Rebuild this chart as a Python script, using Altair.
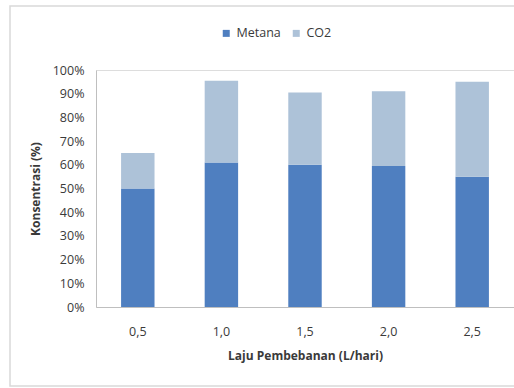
import altair as alt
import pandas as pd

categories = ["0,5", "1,0", "1,5", "2,0", "2,5"]
metana = [50, 61, 60, 59.5, 55]
co2 = [15, 34.5, 30.5, 31.5, 40]
series = ["Metana", "CO2"]
colors = ["#4f7fc0", "#adc2d8"]

rows = []
for c, m, k in zip(categories, metana, co2):
    rows.append({"Laju": c, "Gas": "Metana", "Nilai": m / 100, "urut": 0})
    rows.append({"Laju": c, "Gas": "CO2", "Nilai": k / 100, "urut": 1})
df = pd.DataFrame(rows)

FONT = "Open Sans"
TXT = "#3a3a3a"

bars = alt.Chart(df).mark_bar().encode(
    x=alt.X("Laju:N", sort=categories,
            scale=alt.Scale(paddingInner=0.6, paddingOuter=0.3),
            axis=alt.Axis(title="Laju Pembebanan (L/hari)", labelAngle=0, ticks=False,
                          domainColor="#bfbfbf", labelPadding=18, titlePadding=13,
                          labelFontSize=12.5, titleFontSize=12, titleFontWeight="bold",
                          labelColor=TXT, titleColor=TXT, labelFont=FONT, titleFont=FONT)),
    y=alt.Y("Nilai:Q", stack="zero",
            scale=alt.Scale(domain=[0, 1], nice=False),
            axis=alt.Axis(title="Konsentrasi (%)", format=".0%", values=[i / 10 for i in range(11)],
                          ticks=False, grid=False, domainColor="#bfbfbf", labelPadding=12,
                          titlePadding=10, labelFontSize=12.5, titleFontSize=12,
                          titleFontWeight="bold", labelColor=TXT, titleColor=TXT,
                          labelFont=FONT, titleFont=FONT)),
    color=alt.Color("Gas:N", scale=alt.Scale(domain=series, range=colors),
                    legend=alt.Legend(title=None, orient="none", direction="horizontal",
                                      legendX=124, legendY=-43, symbolType="square",
                                      symbolSize=49, symbolStrokeWidth=0, labelFontSize=12.5,
                                      labelFont=FONT, labelColor=TXT, columnPadding=9,
                                      labelOffset=4)),
    order=alt.Order("urut:Q"),
)

border = alt.Chart(pd.DataFrame({"a": [0]})).mark_rect(
    fill=None, stroke="#d9d9d9", strokeWidth=1.5, clip=False
).encode(
    x=alt.value(-86), x2=alt.value(440), y=alt.value(-64), y2=alt.value(316)
)

chart = alt.layer(border, bars).properties(
    width=418, height=237,
    padding={"left": 96, "top": 70, "right": 0, "bottom": 81},
    autosize=alt.AutoSizeParams(type="none"),
).configure_view(stroke=None).configure(background="white")

chart.save("out.html", embed_options={"renderer": "svg", "actions": False})
